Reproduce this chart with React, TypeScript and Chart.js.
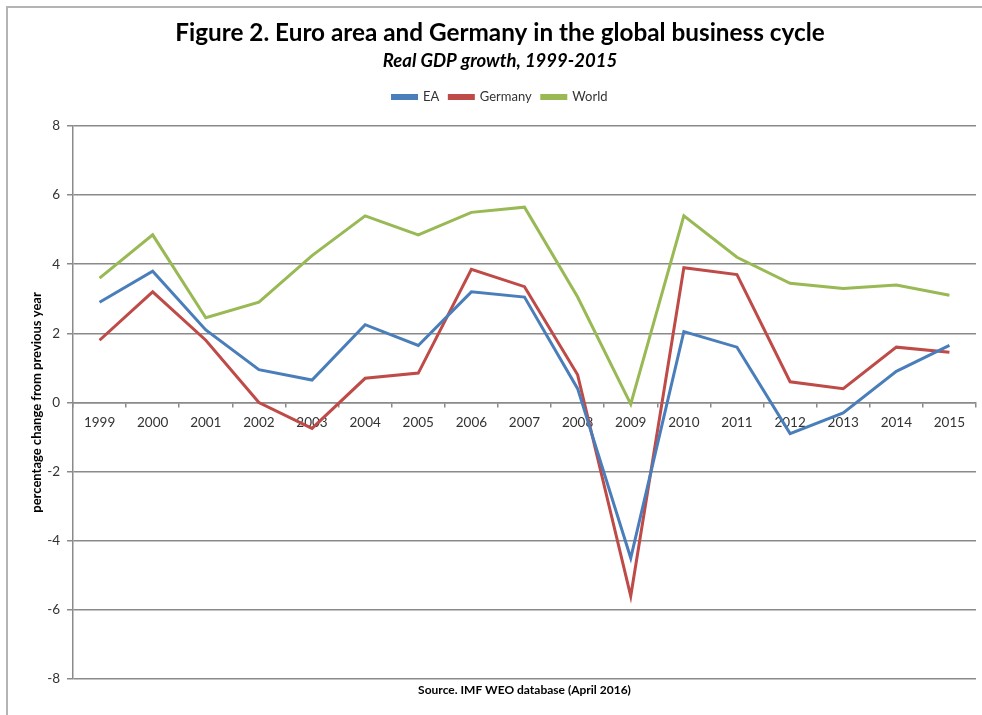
import React, { useEffect, useRef } from "react";
import { Chart, registerables } from "chart.js";

Chart.register(...registerables);

const years = ["1999", "2000", "2001", "2002", "2003", "2004", "2005", "2006", "2007", "2008", "2009", "2010", "2011", "2012", "2013", "2014", "2015"];
const eaGrowth = [2.9, 3.8, 2.1, 0.95, 0.65, 2.25, 1.65, 3.2, 3.05, 0.4, -4.5, 2.05, 1.6, -0.9, -0.3, 0.9, 1.65];
const germanyGrowth = [1.8, 3.2, 1.8, 0.0, -0.75, 0.7, 0.85, 3.85, 3.35, 0.8, -5.6, 3.9, 3.7, 0.6, 0.4, 1.6, 1.45];
const worldGrowth = [3.6, 4.85, 2.45, 2.9, 4.25, 5.4, 4.85, 5.5, 5.65, 3.05, -0.05, 5.4, 4.2, 3.45, 3.3, 3.4, 3.1];
const yTicks = { min: -8, max: 8, step: 2 };

const FONT = 'Lato, "Liberation Sans", sans-serif';
const GRID = "#8a8a8a";
const TEXT = "#333333";

export default function App() {
  const ref = useRef<HTMLCanvasElement>(null);

  useEffect(() => {
    if (!ref.current) return;
    const chart = new Chart(ref.current, {
      type: "line",
      data: {
        labels: years,
        datasets: [
          { label: "EA", data: eaGrowth, borderColor: "#4a7ebb", backgroundColor: "#4a7ebb", borderWidth: 3, pointRadius: 0, tension: 0, xAxisID: "x", yAxisID: "y" },
          { label: "Germany", data: germanyGrowth, borderColor: "#be4b48", backgroundColor: "#be4b48", borderWidth: 3, pointRadius: 0, tension: 0, xAxisID: "x", yAxisID: "y" },
          { label: "World", data: worldGrowth, borderColor: "#98b954", backgroundColor: "#98b954", borderWidth: 3, pointRadius: 0, tension: 0, xAxisID: "x", yAxisID: "y" },
        ],
      },
      options: {
        responsive: false,
        animation: false,
        devicePixelRatio: 1,
        layout: { padding: { left: 24, right: 6, top: 0, bottom: 0 } },
        plugins: {
          title: {
            display: true,
            text: "Figure 2. Euro area and Germany in the global business cycle",
            font: { family: FONT, size: 24.3, weight: "bold" },
            color: "#000000",
            padding: { top: 18.4, bottom: 0 },
          },
          subtitle: {
            display: true,
            text: "Real GDP growth, 1999-2015",
            font: { family: FONT, size: 18.5, weight: "bold", style: "italic" },
            color: "#000000",
            padding: { top: 2.3, bottom: 8.4 },
          },
          legend: {
            position: "top",
            labels: {
              boxWidth: 24,
              boxHeight: 3,
              padding: 10,
              font: { family: FONT, size: 13 },
              color: TEXT,
            },
          },
          tooltip: { enabled: false },
        },
        scales: {
          x: {
            type: "category",
            position: { y: 0 },
            offset: true,
            grid: { display: true, drawOnChartArea: false, tickLength: 4, color: GRID, lineWidth: 1.5, offset: true },
            border: { display: true, color: GRID, width: 1.5 },
            ticks: { padding: 8, font: { family: FONT, size: 13.5 }, color: TEXT, maxRotation: 0, autoSkip: false },
          },
          xTop: {
            type: "category",
            position: "top",
            grid: { display: false, drawTicks: false },
            ticks: { display: false },
            border: { display: false },
            afterFit: (s: any) => { s.height = 12.5; },
          },
          xBottom: {
            type: "category",
            position: "bottom",
            grid: { display: false, drawTicks: false },
            ticks: { display: false },
            border: { display: false },
            title: {
              display: true,
              text: "Source. IMF WEO database (April 2016)",
              font: { family: FONT, size: 12, weight: "bold" },
              color: "#000000",
              padding: { top: 0, bottom: 17.8 },
            },
            afterFit: (s: any) => { s.height = 36; },
          },
          y: {
            min: yTicks.min,
            max: yTicks.max,
            ticks: { stepSize: yTicks.step, padding: 7, font: { family: FONT, size: 13.5 }, color: TEXT },
            grid: { color: GRID, lineWidth: 1.5, tickLength: 6 },
            border: { display: true, color: GRID, width: 1.5 },
            title: {
              display: true,
              text: "percentage change from previous year",
              font: { family: FONT, size: 13, weight: "bold" },
              color: "#000000",
              padding: { top: 5, bottom: 0 },
            },
            afterFit: (s: any) => { s.width = 49; },
          },
        },
      },
    } as any);
    return () => chart.destroy();
  }, []);

  return (
    <div style={{ position: "absolute", left: 0, top: 0, width: 982, height: 715, background: "#ffffff" }}>
      <div style={{ position: "absolute", left: 6, top: 6, right: 0, bottom: 0, borderLeft: "2px solid #b4b4b4", borderTop: "2px solid #b4b4b4", pointerEvents: "none" }} />
      <canvas ref={ref} width={982} height={715} style={{ position: "absolute", left: 0, top: 0, display: "block" }} />
    </div>
  );
}
